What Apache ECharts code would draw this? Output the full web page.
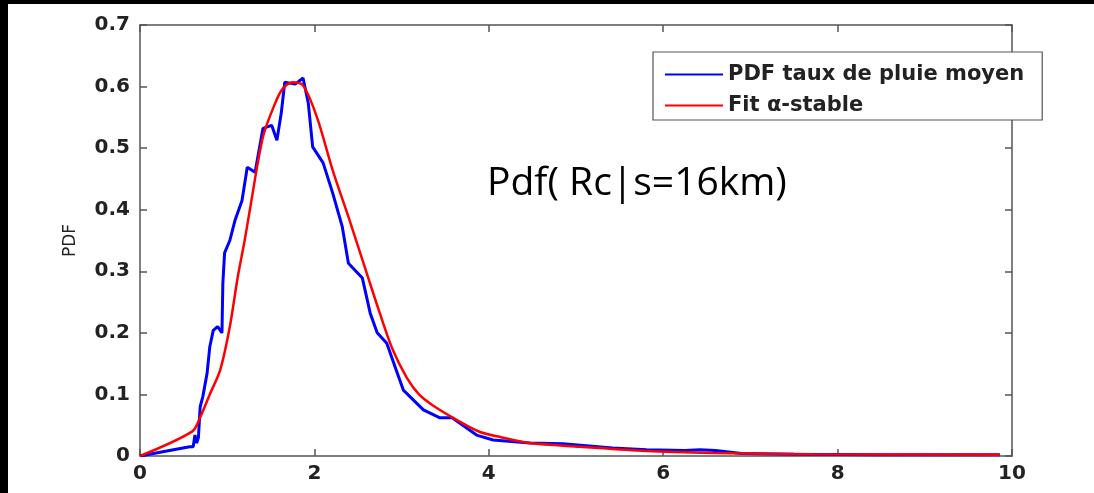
<!DOCTYPE html>
<html>
<head>
<meta charset="utf-8">
<script src="https://cdn.jsdelivr.net/npm/echarts@6/dist/echarts.min.js"></script>
<style>
html,body{margin:0;padding:0;background:#fff;}
#chart{width:1094px;height:493px;}
</style>
</head>
<body>
<div id="chart"></div>
<script>
// Data
var seriesNames = ['PDF taux de pluie moyen', 'Fit \u03b1-stable'];
var annotationText = 'Pdf( Rc|s=16km)';
var yAxisName = 'PDF';
var xTicks = [0, 2, 4, 6, 8, 10];
var yTicks = [0, 0.1, 0.2, 0.3, 0.4, 0.5, 0.6, 0.7];

var pdfEmpirical = [
  [0,0],[0.57,0.015],[0.61,0.015],[0.63,0.034],[0.65,0.021],[0.67,0.03],[0.69,0.08],
  [0.72,0.096],[0.77,0.135],[0.80,0.177],[0.84,0.204],[0.89,0.21],[0.94,0.20],[0.95,0.28],
  [0.97,0.33],[1.03,0.35],[1.09,0.383],[1.17,0.415],[1.23,0.469],[1.32,0.461],[1.41,0.532],
  [1.51,0.537],[1.57,0.513],[1.62,0.557],[1.66,0.607],[1.78,0.604],[1.87,0.614],[1.93,0.573],
  [1.98,0.502],[2.10,0.476],[2.21,0.427],[2.32,0.372],[2.39,0.313],[2.55,0.289],[2.64,0.232],
  [2.72,0.20],[2.83,0.183],[2.95,0.135],[3.02,0.107],[3.25,0.075],[3.44,0.062],[3.58,0.062],
  [3.86,0.034],[4.05,0.026],[4.47,0.021],[4.85,0.02],[5.42,0.013],[5.81,0.01],[6.25,0.009],
  [6.42,0.01],[6.6,0.009],[6.9,0.004],[7.5,0.003],[8.5,0.002],[9.86,0.002]
];
var pdfFit = [
  [0,0],[0.6,0.04],[0.69,0.063],[0.8,0.1],[0.92,0.14],[1.03,0.21],[1.12,0.29],[1.2,0.35],
  [1.26,0.40],[1.41,0.518],[1.55,0.573],[1.64,0.597],[1.75,0.607],[1.87,0.602],[2.03,0.55],
  [2.21,0.464],[2.41,0.38],[2.60,0.297],[2.75,0.232],[2.9,0.172],[3.06,0.127],[3.2,0.1],
  [3.36,0.082],[3.64,0.058],[3.9,0.039],[4.13,0.031],[4.47,0.021],[5.05,0.015],[5.81,0.008],
  [6.57,0.005],[7.72,0.003],[9.86,0.002]
];

var axisColor = '#555';
var labelFont = {fontFamily: 'DejaVu Sans', fontWeight: 'bold', fontSize: 20, color: '#222'};

var chart = echarts.init(document.getElementById('chart'), null, {renderer: 'canvas'});
var xMin = xTicks[0], xMax = xTicks[xTicks.length-1], xInt = xTicks[1]-xTicks[0];
var yMin = yTicks[0], yMax = yTicks[yTicks.length-1], yInt = 0.1;

function baseX(pos, show) {
  return {
    type: 'value', position: pos, min: xMin, max: xMax, interval: xInt,
    axisLine: {show: true, onZero: false, lineStyle: {color: axisColor, width: 1.5}},
    axisTick: {show: true, inside: true, length: 7, lineStyle: {color: axisColor, width: 1.5}},
    axisLabel: Object.assign({show: show, margin: 8}, labelFont),
    splitLine: {show: false}
  };
}
function baseY(pos, show) {
  return {
    type: 'value', position: pos, min: yMin, max: yMax, interval: yInt,
    axisLine: {show: true, onZero: false, lineStyle: {color: axisColor, width: 1.5}},
    axisTick: {show: true, inside: true, length: 7, lineStyle: {color: axisColor, width: 1.5}},
    axisLabel: Object.assign({show: show, margin: 10, formatter: function(v){ return v === 0 ? '0' : v.toFixed(1); }}, labelFont),
    splitLine: {show: false}
  };
}

var yMain = baseY('left', true);
yMain.name = yAxisName;
yMain.nameLocation = 'middle';
yMain.nameGap = 61;
yMain.nameRotate = 90;
yMain.nameTextStyle = {fontFamily: 'DejaVu Sans', fontSize: 17, color: '#222'};

var option = {
  backgroundColor: '#fff',
  animation: false,
  grid: {left: 140, right: 82, top: 25, bottom: 37, containLabel: false},
  title: {
    text: annotationText, left: 482, top: 159,
    textStyle: {fontFamily: 'Open Sans', fontWeight: 'normal', fontSize: 39, color: '#000'}
  },
  legend: {
    data: seriesNames, orient: 'vertical', left: 653, top: 52,
    padding: [12, 18, 4, 12], itemGap: 10, itemWidth: 58, itemHeight: 2, icon: 'rect',
    backgroundColor: '#fff', borderColor: '#555', borderWidth: 1.2, borderRadius: 0,
    textStyle: {fontFamily: 'DejaVu Sans', fontWeight: 'bold', fontSize: 21, color: '#222'},
    z: 10
  },
  xAxis: [baseX('bottom', true), baseX('top', false)],
  yAxis: [yMain, baseY('right', false)],
  series: [
    {name: seriesNames[0], type: 'line', data: pdfEmpirical, showSymbol: false, symbol: 'none',
     color: '#0000ff', lineStyle: {color: '#0000ff', width: 3}, xAxisIndex: 0, yAxisIndex: 0, z: 2},
    {name: seriesNames[1], type: 'line', data: pdfFit, showSymbol: false, symbol: 'none', smooth: 0.3,
     color: '#ff0000', lineStyle: {color: '#ff0000', width: 2.5}, xAxisIndex: 0, yAxisIndex: 0, z: 3}
  ],
  graphic: [
    {type: 'rect', left: 0, top: 0, shape: {width: 1094, height: 4}, style: {fill: '#000'}, z: 100},
    {type: 'rect', left: 0, top: 0, shape: {width: 8, height: 493}, style: {fill: '#000'}, z: 100}
  ]
};
chart.setOption(option);
</script>
</body>
</html>
